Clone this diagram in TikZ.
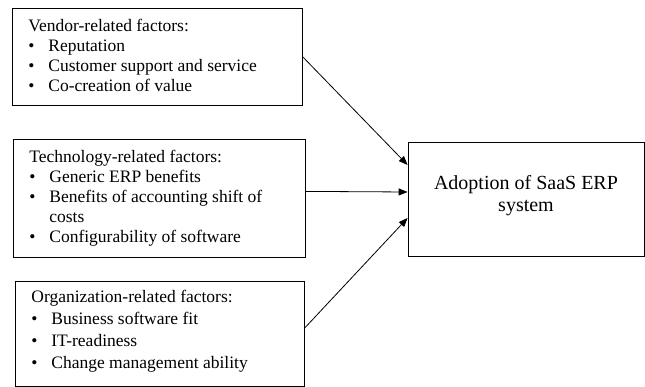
\documentclass[tikz,border=0pt]{standalone}
\usepackage{fontspec}
\setmainfont{Liberation Serif}
\usepackage{tikz}
\usetikzlibrary{arrows.meta}
\tikzstyle{factorbox} = [draw=black, line width=0.8pt, rectangle, inner sep=0pt, anchor=north west, font=\fontsize{17.5}{20}\selectfont]
\tikzstyle{adoptbox} = [draw=black, line width=0.8pt, rectangle, inner sep=0pt, font=\fontsize{20}{22}\selectfont]
\tikzstyle{link} = [line width=0.8pt, -{Triangle[length=9pt,width=7pt]}]
% one bullet line of a factor list
\newcommand{\itm}[1]{\par\hangindent=20pt\hangafter=1\makebox[20pt][l]{\textbullet}#1}

\begin{document}
\begin{tikzpicture}[x=1pt,y=-1pt]
	\useasboundingbox (0,0) rectangle (645,387);
	\node [factorbox] (vendor) at (12,8) {%
		\begin{minipage}[c][97pt][t]{290pt}\leftskip=16pt\rightskip=12pt plus 1fil
			\vspace*{11pt}Vendor-related factors:
			\itm{Reputation}
			\itm{Customer support and service}
			\itm{Co-creation of value}
		\end{minipage}
	};
	\node [factorbox] (tech) at (13,139) {%
		\begin{minipage}[c][118pt][t]{292pt}\leftskip=16pt\rightskip=12pt plus 1fil
			\vspace*{11pt}Technology-related factors:
			\itm{Generic ERP benefits}
			\itm{Benefits of accounting shift of costs}
			\itm{Configurability of software}
		\end{minipage}
	};
	\node [factorbox] (org) at (15,281) {%
		\begin{minipage}[c][105pt][t]{289pt}\leftskip=16pt\rightskip=12pt plus 1fil\parskip=2pt
			\vspace*{9pt}Organization-related factors:
			\itm{Business software fit}
			\itm{IT-readiness}
			\itm{Change management ability}
		\end{minipage}
	};
	\node [adoptbox] (adopt) at (526,199) {%
		\begin{minipage}[c][114pt][t]{236pt}\centering
			\vspace*{33pt}Adoption of SaaS ERP\\system
		\end{minipage}
	};
	% influences on adoption
	\draw [link] (vendor.east) -- ([yshift=34pt]adopt.west);
	\draw [link] ([yshift=7pt]tech.east) -- ([yshift=7pt]adopt.west);
	\draw [link] ([yshift=6pt]org.east) -- ([yshift=-19pt]adopt.west);
\end{tikzpicture}
\end{document}
